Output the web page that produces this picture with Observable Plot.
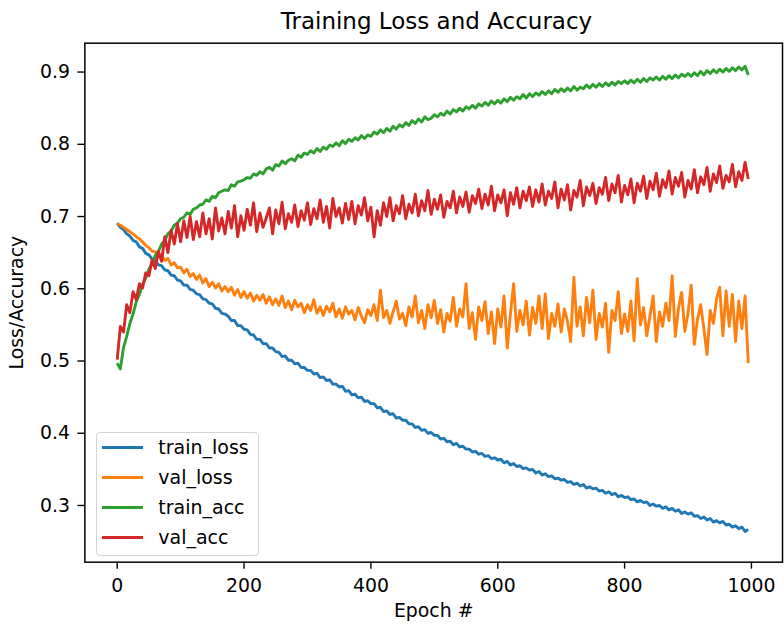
<!DOCTYPE html>
<html>
<head>
<meta charset="utf-8">
<script src="https://cdn.jsdelivr.net/npm/d3@7"></script>
<script src="https://cdn.jsdelivr.net/npm/@observablehq/plot@0.6"></script>
<style>
html, body { margin: 0; padding: 0; background: #fff; overflow: hidden; width: 784px; height: 628px; }
#wrap { position: relative; width: 784px; height: 628px; overflow: hidden; font-family: "DejaVu Sans", sans-serif; color: #000; }
#wrap svg { position: absolute; left: 0; top: 0; }
#title { position: absolute; left: 0; top: 10px; width: 873px; text-align: center; font-size: 23px; line-height: 1; white-space: nowrap; }
#legend { position: absolute; left: 95.5px; top: 431.7px; width: 163px; height: 124px; box-sizing: border-box; border: 1px solid #d4d4d4; border-radius: 4px; background: rgba(255,255,255,0.8); }
.handle { position: absolute; left: 102px; width: 41px; height: 3px; }
.ltext { position: absolute; left: 158.3px; font-size: 19px; line-height: 1; white-space: nowrap; }
</style>
</head>
<body>
<div id="wrap">
  <div id="title"></div>
</div>
<script>
const titleText = "Training Loss and Accuracy";
const xLabel = "Epoch #";
const yLabel = "Loss/Accuracy";
const seriesNames = ["train_loss", "val_loss", "train_acc", "val_acc"];
const seriesColors = ["#1f77b4", "#ff7f0e", "#2ca02c", "#d62728"];
const xTicks = [0, 200, 400, 600, 800, 1000];
const yTicks = [0.3, 0.4, 0.5, 0.6, 0.7, 0.8, 0.9];
const epochStep = 5;

const trainLoss = [
0.691,0.685,0.682,0.676,0.673, 0.667,0.665,0.658,0.656,0.649,
0.647,0.641,0.639,0.633,0.632, 0.626,0.625,0.619,0.618,0.612,
0.611,0.605,0.605,0.599,0.598, 0.593,0.592,0.586,0.585,0.580,
0.579,0.573,0.572,0.566,0.565, 0.562,0.556,0.556,0.549,0.549,
0.544,0.543,0.537,0.536,0.530, 0.530,0.524,0.524,0.518,0.518,
0.513,0.512,0.506,0.507,0.501, 0.501,0.496,0.497,0.491,0.491,
0.487,0.487,0.482,0.483,0.477, 0.478,0.473,0.474,0.468,0.468,
0.464,0.465,0.458,0.459,0.453, 0.454,0.449,0.450,0.444,0.445,
0.441,0.441,0.435,0.436,0.430, 0.431,0.426,0.427,0.421,0.422,
0.418,0.418,0.413,0.413,0.408, 0.409,0.404,0.405,0.400,0.401,
0.397,0.397,0.392,0.393,0.388, 0.389,0.384,0.386,0.381,0.382,
0.378,0.378,0.374,0.375,0.371, 0.372,0.368,0.369,0.365,0.366,
0.363,0.364,0.359,0.361,0.356, 0.358,0.354,0.355,0.351,0.352,
0.349,0.350,0.345,0.347,0.342, 0.344,0.340,0.341,0.337,0.338,
0.335,0.336,0.332,0.333,0.329, 0.331,0.327,0.329,0.324,0.326,
0.323,0.324,0.320,0.321,0.317, 0.319,0.315,0.317,0.312,0.314,
0.311,0.312,0.308,0.309,0.305, 0.307,0.304,0.305,0.300,0.302,
0.299,0.300,0.296,0.298,0.294, 0.296,0.292,0.294,0.289,0.291,
0.288,0.290,0.285,0.286,0.282, 0.284,0.280,0.282,0.277,0.279,
0.276,0.278,0.273,0.274,0.270, 0.272,0.268,0.270,0.264,0.267
];

const valLoss = [
0.690,0.688,0.685,0.682,0.679, 0.676,0.672,0.669,0.665,0.660,
0.657,0.652,0.651,0.645,0.646, 0.639,0.642,0.633,0.636,0.629,
0.630,0.622,0.627,0.617,0.621, 0.613,0.619,0.608,0.614,0.603,
0.609,0.601,0.607,0.597,0.603, 0.596,0.602,0.591,0.599,0.588,
0.596,0.587,0.594,0.583,0.591, 0.584,0.592,0.580,0.589,0.578,
0.586,0.577,0.590,0.574,0.583, 0.571,0.584,0.575,0.580,0.567,
0.578,0.570,0.585,0.566,0.575, 0.563,0.576,0.568,0.580,0.561,
0.572,0.559,0.575,0.565,0.570, 0.557,0.574,0.562,0.553,0.571,
0.563,0.578,0.556,0.598,0.560, 0.570,0.552,0.568,0.583,0.558,
0.566,0.549,0.575,0.561,0.590, 0.553,0.570,0.545,0.578,0.560,
0.584,0.552,0.571,0.540,0.566, 0.555,0.588,0.548,0.572,0.561,
0.607,0.545,0.567,0.530,0.575, 0.556,0.582,0.538,0.568,0.524,
0.572,0.547,0.590,0.518,0.565, 0.607,0.541,0.570,0.550,0.583,
0.536,0.574,0.552,0.590,0.545, 0.593,0.531,0.566,0.548,0.579,
0.540,0.572,0.555,0.527,0.616, 0.548,0.575,0.535,0.588,0.553,
0.598,0.530,0.566,0.547,0.580, 0.512,0.570,0.556,0.596,0.538,
0.565,0.541,0.583,0.528,0.614, 0.550,0.574,0.535,0.562,0.590,
0.527,0.568,0.548,0.580,0.556, 0.618,0.534,0.573,0.595,0.541,
0.566,0.605,0.523,0.558,0.578, 0.545,0.509,0.570,0.552,0.586,
0.602,0.535,0.597,0.548,0.592, 0.527,0.583,0.545,0.590,0.497
];

const trainAcc = [
0.497,0.489,0.519,0.534,0.552, 0.565,0.582,0.592,0.606,0.615,
0.627,0.635,0.646,0.652,0.662, 0.667,0.676,0.680,0.688,0.691,
0.697,0.699,0.705,0.703,0.710, 0.712,0.716,0.717,0.723,0.721,
0.728,0.726,0.733,0.735,0.737, 0.736,0.744,0.742,0.748,0.749,
0.751,0.754,0.753,0.759,0.757, 0.762,0.759,0.766,0.768,0.764,
0.772,0.770,0.777,0.773,0.778, 0.780,0.777,0.785,0.782,0.788,
0.786,0.791,0.788,0.794,0.790, 0.796,0.793,0.799,0.797,0.802,
0.798,0.805,0.801,0.807,0.804, 0.809,0.806,0.812,0.808,0.813,
0.811,0.817,0.814,0.820,0.816, 0.822,0.818,0.825,0.821,0.827,
0.824,0.830,0.826,0.833,0.829, 0.835,0.831,0.838,0.834,0.836,
0.841,0.838,0.843,0.840,0.846, 0.842,0.848,0.845,0.850,0.846,
0.852,0.849,0.854,0.850,0.856, 0.853,0.858,0.854,0.860,0.856,
0.861,0.857,0.863,0.859,0.865, 0.861,0.866,0.863,0.869,0.864,
0.870,0.866,0.871,0.868,0.873, 0.869,0.874,0.870,0.876,0.872,
0.877,0.873,0.878,0.874,0.880, 0.875,0.879,0.877,0.882,0.878,
0.883,0.879,0.884,0.880,0.885, 0.881,0.886,0.882,0.887,0.884,
0.888,0.884,0.889,0.885,0.890, 0.886,0.891,0.887,0.892,0.889,
0.893,0.889,0.894,0.890,0.895, 0.891,0.896,0.892,0.897,0.894,
0.898,0.894,0.899,0.895,0.901, 0.896,0.902,0.898,0.903,0.899,
0.904,0.900,0.905,0.901,0.906, 0.902,0.907,0.903,0.908,0.896
];

const valAcc = [
0.502,0.548,0.540,0.578,0.567, 0.596,0.585,0.607,0.601,0.622,
0.618,0.640,0.628,0.652,0.638, 0.672,0.650,0.681,0.662,0.690,
0.665,0.694,0.671,0.700,0.668, 0.693,0.672,0.705,0.676,0.697,
0.669,0.712,0.680,0.698,0.676, 0.707,0.684,0.715,0.672,0.701,
0.681,0.710,0.688,0.719,0.679, 0.705,0.685,0.698,0.712,0.676,
0.709,0.690,0.720,0.683,0.704, 0.692,0.716,0.686,0.708,0.695,
0.719,0.689,0.711,0.697,0.723, 0.692,0.714,0.684,0.725,0.700,
0.712,0.691,0.718,0.696,0.721, 0.690,0.715,0.702,0.726,0.694,
0.713,0.672,0.708,0.688,0.719, 0.700,0.726,0.694,0.715,0.704,
0.729,0.697,0.717,0.705,0.731, 0.701,0.722,0.708,0.736,0.703,
0.724,0.710,0.730,0.699,0.721, 0.712,0.735,0.705,0.727,0.714,
0.734,0.706,0.729,0.718,0.738, 0.711,0.731,0.716,0.742,0.708,
0.730,0.719,0.737,0.701,0.733, 0.717,0.740,0.712,0.735,0.722,
0.741,0.714,0.737,0.720,0.745, 0.716,0.735,0.725,0.748,0.712,
0.738,0.723,0.744,0.709,0.736, 0.727,0.750,0.715,0.741,0.729,
0.746,0.718,0.740,0.731,0.754, 0.722,0.745,0.733,0.757,0.720,
0.743,0.730,0.752,0.719,0.746, 0.735,0.756,0.725,0.749,0.737,
0.760,0.728,0.751,0.740,0.763, 0.731,0.754,0.742,0.761,0.727,
0.750,0.738,0.765,0.733,0.755, 0.744,0.768,0.735,0.759,0.747,
0.770,0.739,0.757,0.748,0.772, 0.741,0.762,0.750,0.775,0.752
];

const seriesValues = [trainLoss, valLoss, trainAcc, valAcc];
const rows = [];
seriesNames.forEach((name, s) => {
  seriesValues[s].forEach((v, i) => rows.push({series: name, epoch: i * epochStep, value: v}));
});

const chart = Plot.plot({
  width: 790,
  height: 628,
  marginLeft: 85,
  marginRight: 2,
  marginTop: 43,
  marginBottom: 62,
  style: {fontFamily: "DejaVu Sans", fontSize: "19px", color: "#000", background: "transparent", overflow: "visible"},
  x: {domain: [-51, 1049]},
  y: {domain: [0.2215, 0.9400]},
  color: {domain: seriesNames, range: seriesColors},
  marks: [
    Plot.line(rows, {x: "epoch", y: "value", z: "series", stroke: "series", strokeWidth: 2.9, strokeLinejoin: "round", strokeLinecap: "butt"}),
    Plot.frame({stroke: "#000", strokeWidth: 1.5}),
    Plot.axisX({ticks: xTicks, tickFormat: d => String(d), tickSize: 7, tickPadding: 10, strokeWidth: 1.4, label: xLabel, labelAnchor: "center", labelArrow: "none", labelOffset: 55}),
    Plot.axisY({ticks: yTicks, tickFormat: d => d.toFixed(1), tickSize: 7, tickPadding: 8, strokeWidth: 1.4, label: yLabel, labelAnchor: "center", labelArrow: "none", labelOffset: 76})
  ]
});

const wrap = document.getElementById("wrap");
wrap.insertBefore(chart, wrap.firstChild);
document.getElementById("title").textContent = titleText;

const legend = document.createElement("div");
legend.id = "legend";
wrap.appendChild(legend);
seriesNames.forEach((name, i) => {
  const cy = 447 + 30.1 * i;
  const h = document.createElement("div");
  h.className = "handle";
  h.style.top = Math.round(cy - 1.5) + "px";
  h.style.background = seriesColors[i];
  wrap.appendChild(h);
  const t = document.createElement("div");
  t.className = "ltext";
  t.style.top = Math.round(cy - 9.5) + "px";
  t.textContent = name;
  wrap.appendChild(t);
});
</script>
</body>
</html>
